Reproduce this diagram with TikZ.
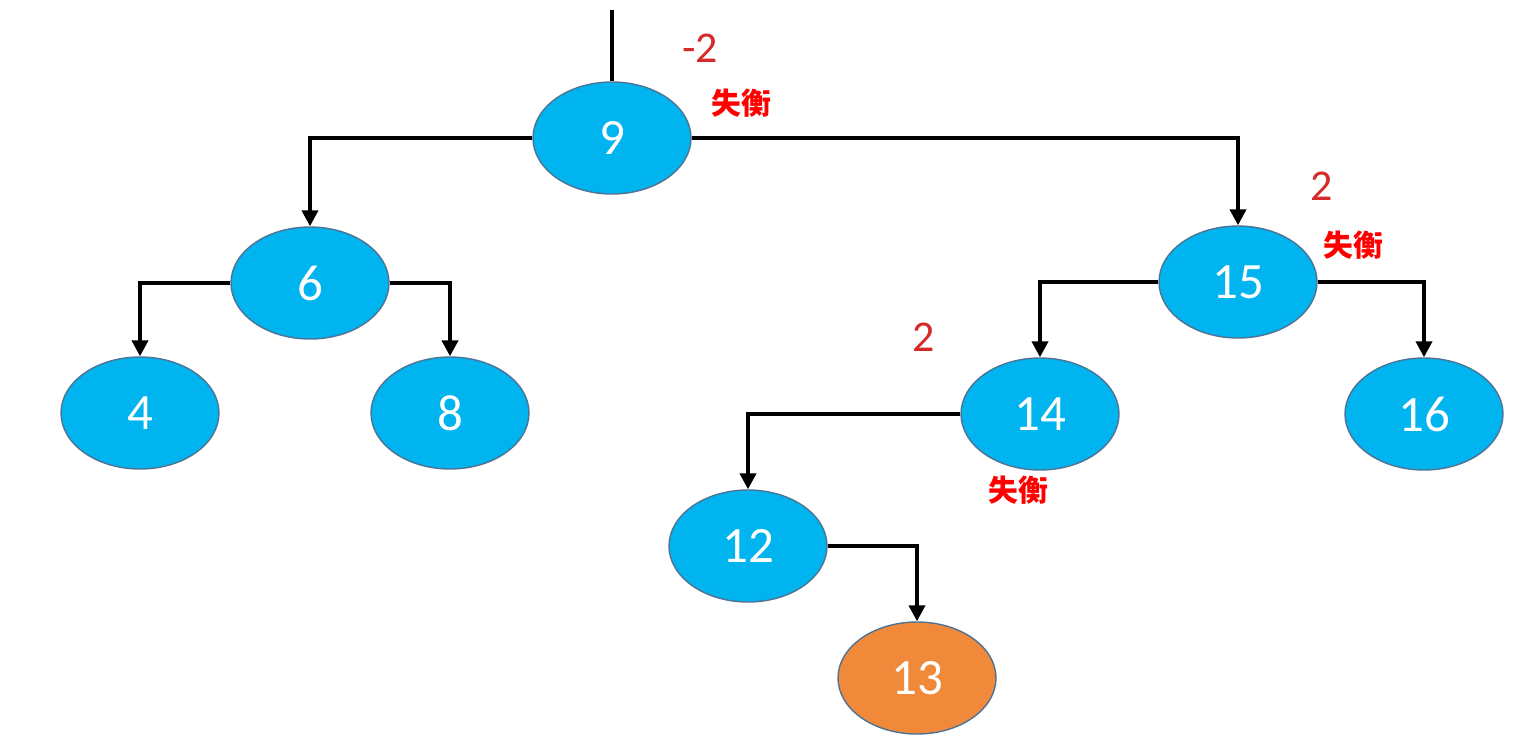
\documentclass[tikz,border=0pt]{standalone}
\usepackage{fontspec}
\setmainfont{Carlito}
\newfontfamily\cjk{Noto Sans CJK SC}
\usetikzlibrary{shapes.geometric,arrows.meta}
\definecolor{nodeblue}{HTML}{00B4EF}
\definecolor{nodeorange}{HTML}{F08A3A}
\definecolor{rimgray}{HTML}{4F7394}
\definecolor{factred}{HTML}{D42A2A}
\begin{document}
\begin{tikzpicture}[
    key/.style={ellipse,draw=rimgray,line width=0.8pt,fill=nodeblue,minimum width=3.16cm,minimum height=2.24cm,inner sep=0pt,text=white,font=\fontsize{29}{34}\selectfont},
    newkey/.style={key,fill=nodeorange},
    link/.style={line width=2.2pt,-{Triangle[length=0.32cm,width=0.32cm]}},
    factor/.style={text=factred,font=\fontsize{25}{30}\selectfont},
    tilt/.style={text=red,font=\cjk\bfseries\fontsize{17}{20}\selectfont}
]
        \useasboundingbox (0,0) rectangle (30.68,-15);

        \coordinate (root) at (12.24,-0.2);
        \node[key] (n9) at (12.24,-2.76) {9};
        \node[key] (n6) at (6.2,-5.66) {6};
        \node[key] (n15) at (24.76,-5.64) {15};
        \node[key] (n4) at (2.8,-8.26) {4};
        \node[key] (n8) at (9.0,-8.26) {8};
        \node[key] (n14) at (20.8,-8.28) {14};
        \node[key] (n16) at (28.48,-8.28) {16};
        \node[key] (n12) at (14.96,-10.92) {12};
        \node[newkey] (n13) at (18.34,-13.56) {13};

        \node[factor] (f9) at (14.0,-0.96) {-2};
        \node[tilt] (t9) at (14.82,-2.06) {失衡};
        \node[factor] (f15) at (26.44,-3.72) {2};
        \node[tilt] (t15) at (27.06,-4.9) {失衡};
        \node[factor] (f14) at (18.48,-6.74) {2};
        \node[tilt] (t14) at (20.36,-9.8) {失衡};

        \draw[line width=2.2pt] (root) -- (n9.north);
        \draw[link] (n9.west) -| (n6.north);
        \draw[link] (n9.east) -| (n15.north);
        \draw[link] (n6.west) -| (n4.north);
        \draw[link] (n6.east) -| (n8.north);
        \draw[link] (n15.west) -| (n14.north);
        \draw[link] (n15.east) -| (n16.north);
        \draw[link] (n14.west) -| (n12.north);
        \draw[link] (n12.east) -| (n13.north);
    \end{tikzpicture}
\end{document}
